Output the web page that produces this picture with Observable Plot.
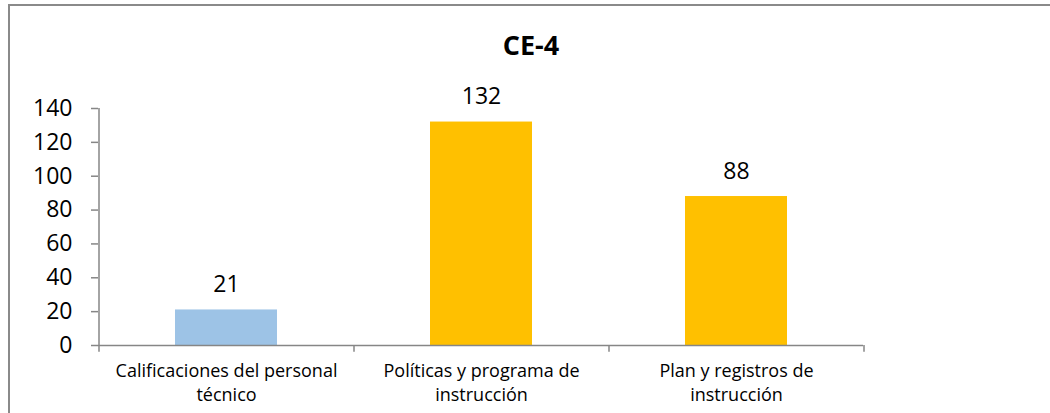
<!DOCTYPE html>
<html>
<head>
<meta charset="utf-8">
<script src="https://cdn.jsdelivr.net/npm/d3@7"></script>
<script src="https://cdn.jsdelivr.net/npm/@observablehq/plot@0.6"></script>
<style>
  html, body { margin: 0; padding: 0; background: #fff; }
  #wrap { position: relative; width: 1050px; height: 413px; overflow: hidden; font-family: "Open Sans", sans-serif; }
  #frame { position: absolute; left: 8px; top: 4px; width: 1100px; height: 500px; border-left: 2px solid #8a8a8a; border-top: 2px solid #8a8a8a; box-sizing: border-box; }
  #title { position: absolute; left: 0; top: 26px; width: 1062px; text-align: center; font-weight: bold; font-size: 27px; color: #000; }
  #chart { position: absolute; left: 0; top: 0; }
</style>
</head>
<body>
<div id="wrap">
  <div id="frame"></div>
  <div id="title">CE-4</div>
  <div id="chart"></div>
</div>
<script>
const categories = ["Calificaciones del personal técnico", "Políticas y programa de instrucción", "Plan y registros de instrucción"];
const tickLabels = ["Calificaciones del personal\ntécnico", "Políticas y programa de\ninstrucción", "Plan y registros de\ninstrucción"];
const values = [21, 132, 88];
const barColors = ["#9DC3E6", "#FFC000", "#FFC000"];
const yTicks = [0, 20, 40, 60, 80, 100, 120, 140];

const data = categories.map((c, i) => ({category: c, value: values[i], color: barColors[i]}));

const W = 1050, H = 413;
const mL = 98, mR = 187, mT = 108, mB = 68;
const halfStep = (W - mL - mR) / categories.length / 2;
const axisColor = "#868686";
const yMax = yTicks[yTicks.length - 1];

const chart = Plot.plot({
  width: W,
  height: H,
  marginLeft: mL,
  marginRight: mR,
  marginTop: mT,
  marginBottom: mB,
  style: {fontFamily: "Open Sans, sans-serif", background: "transparent", color: "#000"},
  x: {domain: categories, paddingInner: 0.6, paddingOuter: 0.3},
  y: {domain: [0, yMax]},
  marks: [
    Plot.barY(data, {x: "category", y: "value", fill: "color"}),
    Plot.text(data, {x: "category", y: "value", text: d => String(d.value), dy: -25, fontSize: 23, fill: "#000"}),
    // y axis
    Plot.axisY({ticks: yTicks, tickSize: 7, tickPadding: 19, stroke: axisColor, strokeWidth: 1.5, fill: "#000", fontSize: 23, label: null}),
    Plot.ruleX(categories.slice(0, 1), {x: d => d, dx: -halfStep, y1: 0, y2: yMax, stroke: axisColor, strokeWidth: 1.5}),
    Plot.ruleY([0], {stroke: axisColor, strokeWidth: 1.5}),
    // x axis labels
    Plot.axisX({tickSize: 0, tickPadding: 14, tickFormat: (d) => tickLabels[categories.indexOf(d)], fontSize: 18, lineHeight: 1.36, fill: "#000", label: null}),
    // x axis boundary ticks
    Plot.ruleX(categories, {x: d => d, dx: -halfStep, y1: 0, y2: -4, stroke: axisColor, strokeWidth: 1.5}),
    Plot.ruleX(categories.slice(-1), {x: d => d, dx: halfStep, y1: 0, y2: -4, stroke: axisColor, strokeWidth: 1.5})
  ]
});

document.getElementById("chart").appendChild(chart);
</script>
</body>
</html>
